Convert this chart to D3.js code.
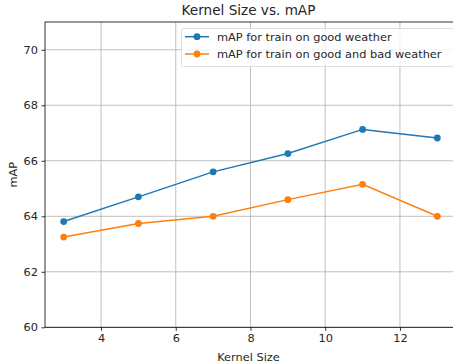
<!DOCTYPE html>
<html>
<head>
<meta charset="utf-8">
<script src="https://cdn.jsdelivr.net/npm/d3@7"></script>
<style>
  body { margin: 0; background: #fff; }
  text { font-family: "DejaVu Sans", sans-serif; fill: #262626; }
</style>
</head>
<body>
<div class="canvas"></div>
<script>
// data
var kernelSizes = [3, 5, 7, 9, 11, 13];
var mapGood = [63.81, 64.70, 65.60, 66.26, 67.13, 66.82];
var mapGoodBad = [63.25, 63.74, 64.00, 64.60, 65.15, 64.00];
var seriesNames = ["mAP for train on good weather", "mAP for train on good and bad weather"];
var seriesColors = ["#1f77b4", "#ff7f0e"];
var xTicks = [4, 6, 8, 10, 12];
var yTicks = [60, 62, 64, 66, 68, 70];

var svg = d3.select(".canvas").append("svg").attr("width", 453).attr("height", 364);

plot = { 'left': 45, 'right': 456, 'top': 22, 'bottom': 327.3 };
var fs = "11.35px";

var x = d3.scaleLinear().domain([2.5, 13.5]).range([plot.left, plot.right]);
var y = d3.scaleLinear().domain([60, 71]).range([plot.bottom, plot.top]);

// grid
svg.append("g").selectAll("line").data(xTicks).join("line")
    .attr("x1", d => x(d)).attr("x2", d => x(d))
    .attr("y1", plot.top).attr("y2", plot.bottom)
    .attr("stroke", "#b0b0b0").attr("stroke-width", 0.8);
svg.append("g").selectAll("line").data(yTicks).join("line")
    .attr("x1", plot.left).attr("x2", plot.right)
    .attr("y1", d => y(d)).attr("y2", d => y(d))
    .attr("stroke", "#b0b0b0").attr("stroke-width", 0.8);

// axes
var xAxis = svg.append("g").attr("transform", "translate(0," + plot.bottom + ")")
    .call(d3.axisBottom(x).tickValues(xTicks).tickSize(3.5).tickPadding(3.5));
var yAxis = svg.append("g").attr("transform", "translate(" + plot.left + ",0)")
    .call(d3.axisLeft(y).tickValues(yTicks).tickSize(3.5).tickPadding(3.5));
[xAxis, yAxis].forEach(function(a) {
    a.select(".domain").remove();
    a.selectAll("line").attr("stroke", "#000").attr("stroke-width", 0.8);
    a.selectAll("text").attr("font-size", fs).attr("font-family", "DejaVu Sans").attr("fill", "#262626");
});

// spines
svg.append("rect")
    .attr("x", plot.left).attr("y", plot.top)
    .attr("width", plot.right - plot.left).attr("height", plot.bottom - plot.top)
    .attr("fill", "none").attr("stroke", "#000").attr("stroke-width", 0.8);

// lines + markers
[mapGood, mapGoodBad].forEach(function(vals, i) {
    var pts = kernelSizes.map((k, j) => [k, vals[j]]);
    svg.append("path").datum(pts)
        .attr("d", d3.line().x(d => x(d[0])).y(d => y(d[1])))
        .attr("fill", "none").attr("stroke", seriesColors[i]).attr("stroke-width", 1.5);
    svg.append("g").selectAll("circle").data(pts).join("circle")
        .attr("cx", d => x(d[0])).attr("cy", d => y(d[1])).attr("r", 3.4)
        .attr("fill", seriesColors[i]);
});

// titles
svg.append("text").attr("x", (plot.left + plot.right) / 2 - 2).attr("y", 15)
    .attr("text-anchor", "middle").attr("font-size", "13.6px").text("Kernel Size vs. mAP");
svg.append("text").attr("x", (plot.left + plot.right) / 2 - 2).attr("y", 360.5)
    .attr("text-anchor", "middle").attr("font-size", fs).text("Kernel Size");
svg.append("text").attr("transform", "translate(16.5," + ((plot.top + plot.bottom) / 2) + ") rotate(-90)")
    .attr("text-anchor", "middle").attr("font-size", fs).text("mAP");

// legend
var legend = svg.append("g");
legend.append("rect")
    .attr("x", 181.5).attr("y", 28.5).attr("width", 272).attr("height", 38)
    .attr("rx", 2).attr("fill", "#fff").attr("fill-opacity", 0.8)
    .attr("stroke", "#d6d6d6").attr("stroke-width", 0.8);
seriesNames.forEach(function(name, i) {
    var ly = 36.7 + i * 17.3;
    legend.append("line").attr("x1", 185).attr("x2", 209).attr("y1", ly).attr("y2", ly)
        .attr("stroke", seriesColors[i]).attr("stroke-width", 1.5);
    legend.append("circle").attr("cx", 197).attr("cy", ly).attr("r", 3.4).attr("fill", seriesColors[i]);
    legend.append("text").attr("x", 217).attr("y", ly + 4).attr("font-size", fs).text(name);
});
</script>
</body>
</html>
